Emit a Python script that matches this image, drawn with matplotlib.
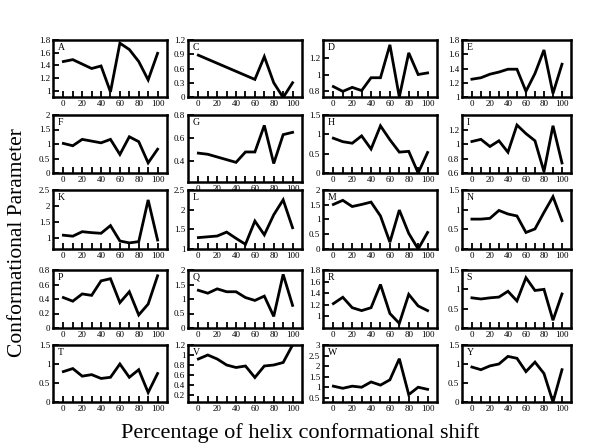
import matplotlib
matplotlib.use("Agg")
import matplotlib.pyplot as plt
from matplotlib.ticker import FuncFormatter, FixedLocator

plt.rcParams['font.family'] = ['Liberation Serif', 'DejaVu Serif']

X = [0, 10, 20, 30, 40, 50, 60, 70, 80, 90, 100]

letters = ["A", "C", "D", "E", "F", "G", "H", "I", "K", "L",
           "M", "N", "P", "Q", "R", "S", "T", "V", "W", "Y"]

x_C = [0, 60, 70, 80, 90, 100]
x_G = [0, 10, 40, 50, 60, 70, 80, 90, 100]

A = [1.46, 1.49, 1.42, 1.35, 1.39, 0.98, 1.75, 1.65, 1.46, 1.17, 1.59]
C = [0.88, 0.37, 0.85, 0.30, -0.01, 0.30]
D = [0.85, 0.79, 0.84, 0.80, 0.96, 0.96, 1.37, 0.72, 1.27, 1.00, 1.02]
E = [1.25, 1.27, 1.32, 1.35, 1.39, 1.39, 1.08, 1.33, 1.66, 1.05, 1.46]
F = [1.02, 0.94, 1.16, 1.10, 1.04, 1.16, 0.64, 1.25, 1.08, 0.35, 0.82]
G = [0.47, 0.46, 0.39, 0.48, 0.48, 0.71, 0.38, 0.63, 0.65]
H = [0.90, 0.81, 0.77, 0.96, 0.62, 1.22, 0.86, 0.54, 0.56, 0.00, 0.53]
I = [1.04, 1.07, 0.97, 1.05, 0.89, 1.27, 1.15, 1.05, 0.62, 1.26, 0.74]
K = [1.09, 1.06, 1.20, 1.17, 1.15, 1.39, 0.91, 0.85, 0.89, 2.19, 0.94]
L = [1.29, 1.31, 1.33, 1.43, 1.27, 1.12, 1.71, 1.36, 1.87, 2.25, 1.54]
M = [1.51, 1.65, 1.44, 1.51, 1.59, 1.12, 0.23, 1.32, 0.53, 0.00, 0.56]
N = [0.76, 0.76, 0.78, 0.98, 0.89, 0.84, 0.42, 0.51, 0.93, 1.33, 0.72]
P = [0.42, 0.37, 0.47, 0.45, 0.65, 0.68, 0.35, 0.50, 0.18, 0.33, 0.72]
Q = [1.30, 1.20, 1.35, 1.25, 1.25, 1.05, 0.95, 1.10, 0.40, 1.85, 0.78]
R = [1.22, 1.33, 1.15, 1.10, 1.15, 1.55, 1.05, 0.88, 1.38, 1.18, 1.10]
S = [0.78, 0.75, 0.78, 0.80, 0.95, 0.70, 1.30, 0.97, 1.00, 0.20, 0.88]
T = [0.80, 0.88, 0.68, 0.72, 0.62, 0.65, 1.00, 0.65, 0.85, 0.25, 0.75]
V = [0.92, 1.00, 0.92, 0.80, 0.75, 0.78, 0.55, 0.78, 0.80, 0.85, 1.20]
W = [1.05, 0.95, 1.05, 1.00, 1.25, 1.10, 1.35, 2.35, 0.65, 1.00, 0.90]
Y = [0.92, 0.85, 0.95, 1.00, 1.20, 1.15, 0.80, 1.05, 0.75, 0.00, 0.85]

series = {"A": (X, A), "C": (x_C, C), "D": (X, D), "E": (X, E),
          "F": (X, F), "G": (x_G, G), "H": (X, H), "I": (X, I),
          "K": (X, K), "L": (X, L), "M": (X, M), "N": (X, N),
          "P": (X, P), "Q": (X, Q), "R": (X, R), "S": (X, S),
          "T": (X, T), "V": (X, V), "W": (X, W), "Y": (X, Y)}

ylims = {"A": (0.9, 1.8), "C": (0, 1.2), "D": (0.72, 1.43), "E": (1, 1.8),
         "F": (0, 2), "G": (0.22, 0.8), "H": (0, 1.5), "I": (0.6, 1.41),
         "K": (0.66, 2.5), "L": (1, 2.5), "M": (0, 2), "N": (0, 1.5),
         "P": (0, 0.8), "Q": (0, 2), "R": (0.8, 1.8), "S": (0, 1.5),
         "T": (0, 1.5), "V": (0.06, 1.2), "W": (0.3, 3), "Y": (0, 1.5)}

yticks = {"A": [1, 1.2, 1.4, 1.6, 1.8], "C": [0, 0.3, 0.6, 0.9, 1.2],
          "D": [0.8, 1, 1.2], "E": [1, 1.2, 1.4, 1.6, 1.8],
          "F": [0, 0.5, 1, 1.5, 2], "G": [0.4, 0.6, 0.8],
          "H": [0, 0.5, 1, 1.5], "I": [0.6, 0.8, 1, 1.2],
          "K": [1, 1.5, 2, 2.5], "L": [1, 1.5, 2, 2.5],
          "M": [0, 0.5, 1, 1.5, 2], "N": [0, 0.5, 1, 1.5],
          "P": [0, 0.2, 0.4, 0.6, 0.8], "Q": [0, 0.5, 1, 1.5, 2],
          "R": [1, 1.2, 1.4, 1.6, 1.8], "S": [0, 0.5, 1, 1.5],
          "T": [0, 0.5, 1, 1.5], "V": [0.2, 0.4, 0.6, 0.8, 1, 1.2],
          "W": [0.5, 1, 1.5, 2, 2.5, 3], "Y": [0, 0.5, 1, 1.5]}

W_PX, H_PX = 600, 445
fig = plt.figure(figsize=(6.0, 4.45), dpi=100)

col_left = [53, 188, 323, 462]
col_w = [114, 114, 114, 109]
rows = [(40, 97), (115, 173), (190, 249), (270, 328), (345, 402)]

fmt = FuncFormatter(lambda v, p: ("%g" % round(v, 3)))

for i, let in enumerate(letters):
    r, c = divmod(i, 4)
    top, bot = rows[r]
    if let == "G":
        bot = 182
    l = col_left[c]
    w = col_w[c]
    ax = fig.add_axes([l / W_PX, 1 - bot / H_PX, w / W_PX, (bot - top) / H_PX])
    xs, ys = series[let]
    ax.plot(xs, ys, color="black", lw=2.0, solid_joinstyle="miter")
    ax.set_xlim(-11, 110)
    ax.set_ylim(*ylims[let])
    ax.xaxis.set_major_locator(FixedLocator([0, 20, 40, 60, 80, 100]))
    ax.xaxis.set_minor_locator(FixedLocator([10, 30, 50, 70, 90]))
    ax.yaxis.set_major_locator(FixedLocator(yticks[let]))
    ax.yaxis.set_major_formatter(fmt)
    ax.tick_params(axis="both", which="both", direction="in", labelsize=6.5,
                   width=1.3, pad=2)
    ax.tick_params(axis="both", which="major", length=4)
    ax.tick_params(axis="x", which="minor", length=4)
    for s in ax.spines.values():
        s.set_linewidth(1.8)
    ax.text(0.04, 0.95, let, transform=ax.transAxes, ha="left", va="top",
            fontsize=7)

fig.text(300 / W_PX, 1 - 433 / H_PX, "Percentage of helix conformational shift",
         ha="center", va="center", fontsize=16)
fig.text(18 / W_PX, 1 - 243 / H_PX, "Conformational Parameter",
         ha="center", va="center", rotation=90, fontsize=15.5)

fig.savefig("out.png", dpi=100)
